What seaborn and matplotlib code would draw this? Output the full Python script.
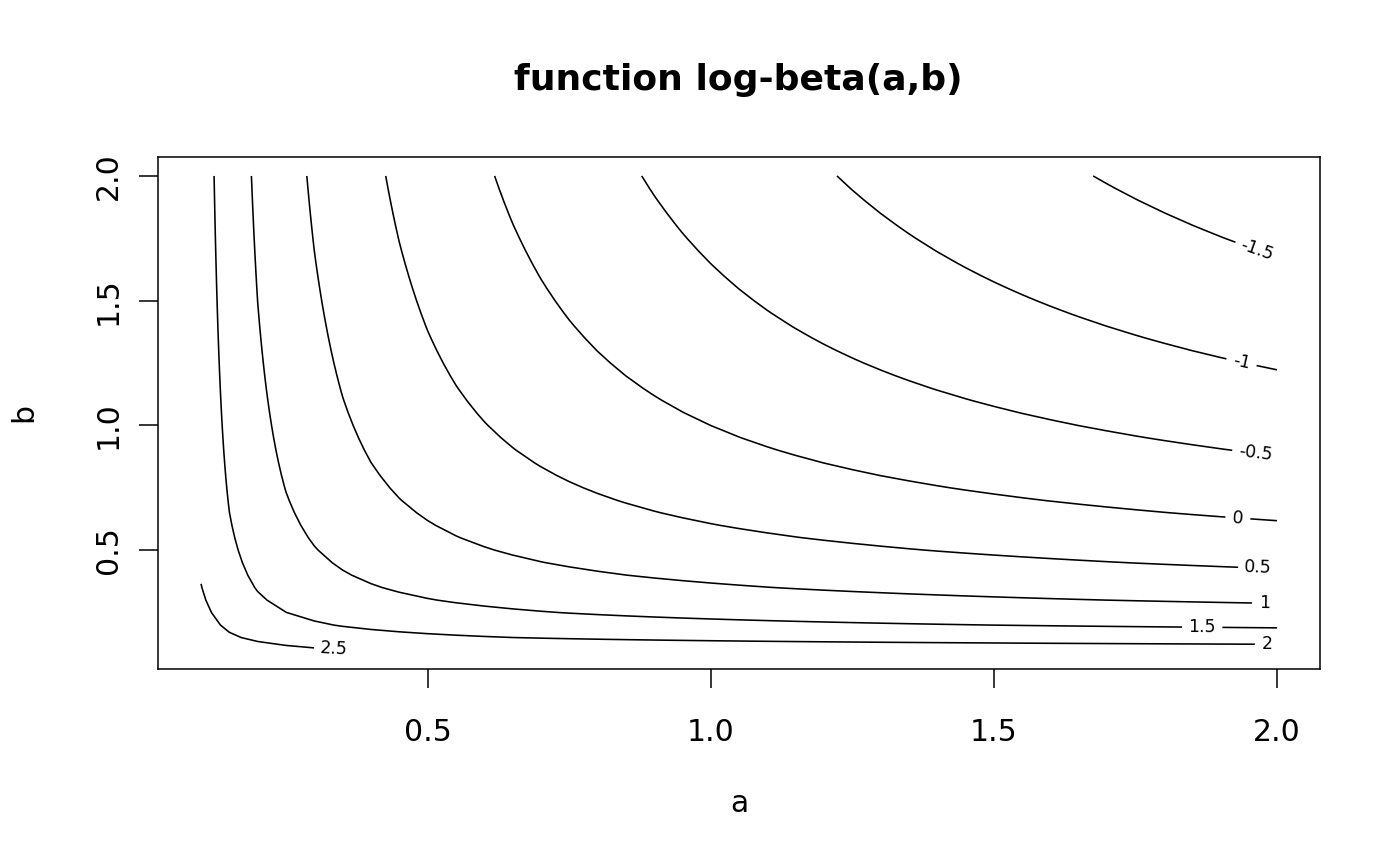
import math
import numpy as np
import matplotlib
matplotlib.use("Agg")
import matplotlib.pyplot as plt
import seaborn as sns

# Grid of parameters (R: a <- b <- seq(0.1, 2, by = 0.05)) and contour levels
a_values = np.round(np.arange(0.1, 2.0001, 0.05), 4)
b_values = np.round(np.arange(0.1, 2.0001, 0.05), 4)
levels = [-1.5, -1.0, -0.5, 0.0, 0.5, 1.0, 1.5, 2.0, 2.5]
level_labels = ["-1.5", "-1", "-0.5", "0", "0.5", "1", "1.5", "2", "2.5"]
x_ticks = [0.5, 1.0, 1.5, 2.0]
x_tick_labels = ["0.5", "1.0", "1.5", "2.0"]
y_ticks = [0.5, 1.0, 1.5, 2.0]
y_tick_labels = ["0.5", "1.0", "1.5", "2.0"]
# approximate label anchor points (a, b)
label_anchor_a = [1.963, 1.937, 1.961, 1.931, 1.967, 1.978, 1.868, 1.983, 0.335]
label_anchor_b = [1.69, 1.25, 0.88, 0.63, 0.43, 0.29, 0.19, 0.12, 0.10]


def lbeta(a, b):
    return math.lgamma(a) + math.lgamma(b) - math.lgamma(a + b)


Z = np.array([[lbeta(a, b) for a in a_values] for b in b_values])

sns.set_style("ticks")
plt.rcParams["font.family"] = ["DejaVu Sans"]
plt.rcParams["text.color"] = "black"
plt.rcParams["axes.labelcolor"] = "black"

fig = plt.figure(figsize=(14, 8.66), dpi=100)
ax = fig.add_axes([158 / 1400, 1 - 669 / 866, (1320 - 158) / 1400, (669 - 157) / 866])

A, B = np.meshgrid(a_values, b_values)
cs = ax.contour(A, B, Z, levels=levels, colors="black", linewidths=1.15,
                negative_linestyles="solid")
fmt = {lv: lab for lv, lab in zip(levels, level_labels)}
ax.clabel(cs, levels=levels, fmt=fmt, fontsize=12.5, inline=True, inline_spacing=8,
          manual=list(zip(label_anchor_a, label_anchor_b)))
cs.set_capstyle("butt")
cs.set_joinstyle("round")

xr = a_values.max() - a_values.min()
yr = b_values.max() - b_values.min()
ax.set_xlim(a_values.min() - 0.04 * xr, a_values.max() + 0.04 * xr)
ax.set_ylim(b_values.min() - 0.04 * yr, b_values.max() + 0.04 * yr)

ax.set_xticks(x_ticks)
ax.set_xticklabels(x_tick_labels)
ax.set_yticks(y_ticks)
ax.set_yticklabels(y_tick_labels, rotation=90, va="center")
ax.tick_params(axis="both", direction="out", length=13.5, width=1.1, labelsize=21.5,
               color="black", labelcolor="black")
ax.tick_params(axis="x", pad=22)
ax.tick_params(axis="y", pad=12)
for sp in ax.spines.values():
    sp.set_visible(True)
    sp.set_color("black")
    sp.set_linewidth(1.1)

ax.set_xlabel("a", fontsize=21.5, labelpad=30, color="black")
ax.set_ylabel("b", fontsize=21.5, labelpad=40, color="black")
fig.text(738 / 1400, 1 - 80 / 866, "function log-beta(a,b)", fontsize=26, fontweight="bold",
         ha="center", va="center", color="black")

fig.savefig("out.png", dpi=100, facecolor="white")
